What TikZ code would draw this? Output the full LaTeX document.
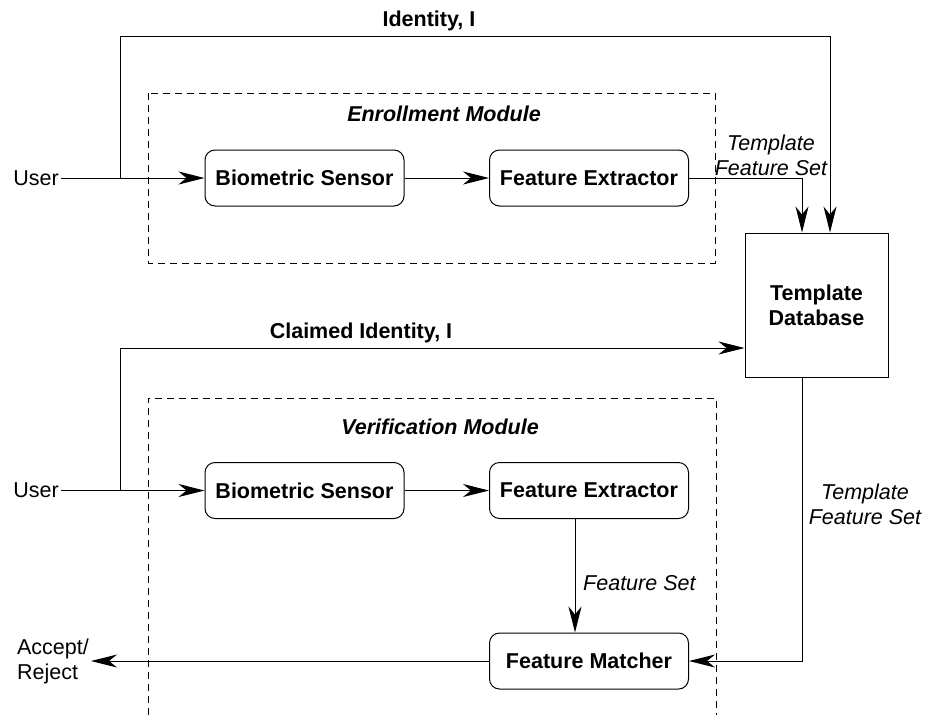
\documentclass[tikz,border=0pt]{standalone}
\usepackage{fontspec}
\setmainfont{Liberation Sans}
\usetikzlibrary{arrows.meta}
\begin{document}
\begin{tikzpicture}[x=1pt,y=-1pt,
  every node/.style={font=\fontsize{21.5}{25}\selectfont},
  proc/.style={draw, line width=1pt, rounded corners=10pt, minimum width=199pt, minimum height=56pt, inner sep=0pt, font=\fontsize{21.5}{25}\selectfont\bfseries},
  dbbox/.style={draw, line width=1pt, minimum width=143pt, minimum height=144pt, inner sep=0pt, align=center, font=\fontsize{21.5}{25}\selectfont\bfseries},
  conn/.style={line width=1pt, -{Stealth[length=26pt, width=13pt, inset=8pt]}},
  module/.style={draw, line width=0.8pt, dash pattern=on 7pt off 5pt},
  tag/.style={inner sep=2pt, font=\fontsize{21.5}{25}\selectfont},
  btag/.style={inner sep=2pt, font=\fontsize{21.5}{25}\selectfont\bfseries},
  bitag/.style={inner sep=2pt, font=\fontsize{21.5}{25}\selectfont\bfseries\itshape},
  itag/.style={inner sep=2pt, align=center, font=\fontsize{21.5}{25}\selectfont\itshape}
]
\useasboundingbox (0,0) rectangle (925,715);

% modules
\draw[module] (148,93) rectangle (715,263);
\draw[module] (148,715) -- (148,398) -- (716,398) -- (716,715);
\node[bitag] (enm) at (444,114) {Enrollment Module};
\node[bitag] (vem) at (440,427) {Verification Module};

% processing nodes
\node[proc] (bs1) at (304.5,178) {Biometric Sensor};
\node[proc] (fe1) at (589,178) {Feature Extractor};
\node[dbbox] (db) at (816.5,305) {Template\\Database};
\node[proc] (bs2) at (304.5,490.5) {Biometric Sensor};
\node[proc] (fe2) at (589,490.5) {Feature Extractor};
\node[proc] (fm) at (589,661) {Feature Matcher};

% external labels
\node[tag, anchor=east] (u1) at (61,178) {User};
\node[tag, anchor=east] (u2) at (61,490.5) {User};
\node[tag, anchor=east, align=left] (acc) at (91,661) {Accept/\\Reject};

% helper coordinates
\coordinate (j1) at (120,178);
\coordinate (j2) at (120,490.5);
\coordinate (t1) at (120,36);
\coordinate (t2) at (830,36);
\coordinate (cl) at (0,348);

% enrollment connectors
\draw[conn] (u1.east) -- (bs1.west);
\draw[conn] (bs1) -- (fe1);
\draw[conn] (j1) -- (t1) -- (t2) -- (t2 |- db.north);
\draw[conn] (fe1.east) -| ([xshift=-14.5pt]db.north);
\node[btag] (idl) at (429,21) {Identity, I};
\node[itag] (tfs1) at (771,155) {Template\\Feature Set};

% verification connectors
\draw[conn] (u2.east) -- (bs2.west);
\draw[conn] (bs2) -- (fe2);
\draw[conn] (j2) |- (db.west |- cl);
\node[btag] (cil) at (361,333) {Claimed Identity, I};
\draw[conn] ([xshift=-14pt]fe2.south) -- ([xshift=-14pt]fm.north);
\node[tag, anchor=west, font=\fontsize{21.5}{25}\selectfont\itshape] (fsl) at (581,583) {Feature Set};
\draw[conn] ([xshift=-14.5pt]db.south) |- (fm.east);
\node[itag] (tfs2) at (865,504) {Template\\Feature Set};
\draw[conn] (fm.west) -- (acc.east);
\end{tikzpicture}
\end{document}
